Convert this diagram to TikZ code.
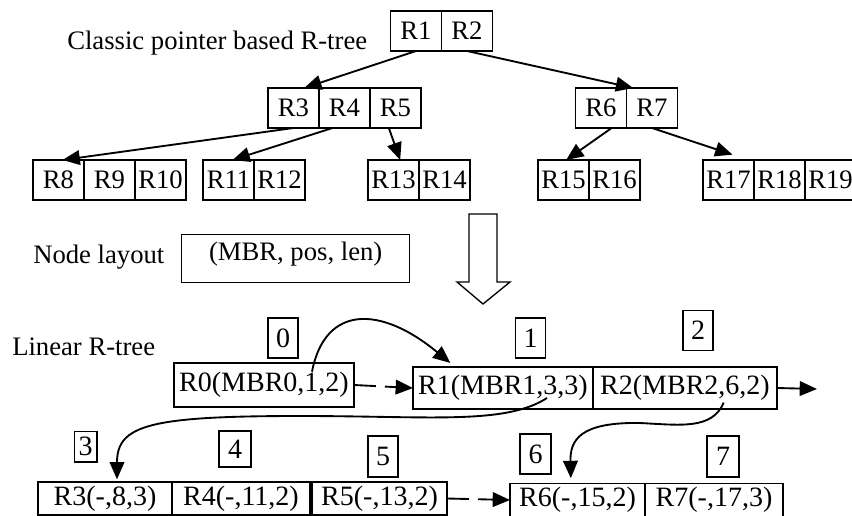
\documentclass[tikz,border=0pt]{standalone}
\usepackage{fontspec}
\setmainfont{Liberation Serif}
\usetikzlibrary{arrows.meta,positioning}

\begin{document}
\begin{tikzpicture}[x=0.75pt,y=-0.75pt,
    font=\fontsize{20}{24}\selectfont,
    lbl/.style={anchor=base west,inner sep=0pt},
    cell/.style={draw,line width=1pt,inner sep=0pt,outer sep=0pt,minimum width=38.25pt,minimum height=30pt},
    rec/.style={draw,line width=1pt,inner sep=0pt,outer sep=0pt,minimum height=31.5pt,
      font=\fontsize{21}{25}\selectfont},
    recb/.style={rec,minimum height=24.75pt},
    idx/.style={draw,line width=1pt,inner sep=0pt,minimum width=22.5pt,minimum height=30pt,
      font=\fontsize{21}{25}\selectfont},
    tip/.style={-{Triangle[length=13pt,width=11pt]},line width=1.4pt},
    gap/.style={tip,dash pattern=on 16.5pt off 6.75pt on 40pt off 0pt}]
\useasboundingbox (0,0) rectangle (852,516);

% classic tree
\node[lbl] (title) at (67,50) {Classic pointer based R-tree};
\node[cell] (r1) at (416,31) {R1};
\node[cell,right=0pt of r1] (r2) {R2};

\node[cell] (r3) at (293.5,108) {R3};
\node[cell,right=0pt of r3] (r4) {R4};
\node[cell,right=0pt of r4] (r5) {R5};
\node[cell] (r6) at (601,108) {R6};
\node[cell,right=0pt of r6] (r7) {R7};

\node[cell] (r8) at (58.5,180) {R8};
\node[cell,right=0pt of r8] (r9) {R9};
\node[cell,right=0pt of r9] (r10) {R10};
\node[cell] (r11) at (228.5,180) {R11};
\node[cell,right=0pt of r11] (r12) {R12};
\node[cell] (r13) at (393.5,180) {R13};
\node[cell,right=0pt of r13] (r14) {R14};
\node[cell] (r15) at (563.5,180) {R15};
\node[cell,right=0pt of r15] (r16) {R16};
\node[cell] (r17) at (728.5,180) {R17};
\node[cell,right=0pt of r17] (r18) {R18};
\node[cell,right=0pt of r18] (r19) {R19};

\path[tip]
  (r1.south) edge ([xshift=8pt]r3.north)
  (r2.south) edge ([xshift=5pt]r6.north east)
  (r3.south) edge ([xshift=3pt]r8.north)
  ([xshift=-9pt]r4.south) edge ([xshift=3pt]r11.north)
  ([xshift=-5pt]r5.south) edge ([xshift=5pt]r13.north)
  ([xshift=8pt]r6.south) edge ([xshift=2pt]r15.north)
  (r7.south) edge ([shift={(3pt,4pt)}]r17.north);

% layout
\node[lbl] (laylabel) at (33,264) {Node layout};
\node[draw,line width=1pt,anchor=north west,inner sep=0pt,minimum width=171pt,
  text height=19.5pt,text depth=16.5pt] (layout) at (181,234) {(MBR, pos, len)};
\draw[line width=1pt] (469,214) -- (497,214) -- (497,282) -- (510,282)
  -- (483,304) -- (457,282) -- (469,282) -- cycle;

% linear tree
\node[lbl] (linlabel) at (12,355) {Linear R-tree};
\node[rec,minimum width=135pt,minimum height=33pt] (l0) at (264,385) {R0(MBR0,1,2)};
\node[rec,minimum width=135pt] (l1) at (503,388) {R1(MBR1,3,3)};
\node[rec,minimum width=138pt,right=0pt of l1] (l2) {R2(MBR2,6,2)};
\node[idx] (i0) at (283,338) {0};
\node[idx] (i1) at (530.5,338) {1};
\node[idx] (i2) at (698,330.5) {2};

\node[recb,minimum width=100.5pt] (l3) at (105,498.5) {R3(-,8,3)};
\node[recb,minimum width=103.5pt,right=0pt of l3] (l4) {R4(-,11,2)};
\node[recb,minimum width=101.25pt,right=1.5pt of l4] (l5) {R5(-,13,2)};
\node[recb,minimum width=101.25pt] (l6) at (577.5,500) {R6(-,15,2)};
\node[recb,minimum width=103.5pt,right=0pt of l6] (l7) {R7(-,17,3)};
\node[idx,minimum width=17pt,minimum height=23pt] (i3) at (85.5,446.5) {3};
\node[idx,minimum width=24pt,minimum height=27pt] (i4) at (235,449) {4};
\node[idx,minimum height=30.75pt] (i5) at (383,456.5) {5};
\node[idx,minimum width=23.25pt] (i6) at (535.5,454) {6};
\node[idx,minimum width=24pt,minimum height=30.75pt] (i7) at (723,456.5) {7};

\path[gap]
  (l0.east) edge (l1.west)
  (l5.east) edge (l6.west);
\coordinate (l2out) at (817,389);
\draw[tip] (l2.east) -- (l2out);

\draw[tip] ([shift={(36pt,10pt)}]l0.center) .. controls (325,305) and (380,305)
  .. ([xshift=28pt,yshift=3pt]l1.north west);
\draw[tip] ([shift={(33pt,-7.5pt)}]l1.center) .. controls (505,425) and (430,416)
  .. (300,416) .. controls (150,416) and (117,425) .. ([xshift=9pt,yshift=2pt]l3.north);
\draw[tip] ([shift={(29pt,-11pt)}]l2.center) .. controls (712,430) and (680,425)
  .. (640,423) .. controls (580,422) and (570,440) .. ([xshift=-5pt,yshift=4pt]l6.north);
\end{tikzpicture}
\end{document}
